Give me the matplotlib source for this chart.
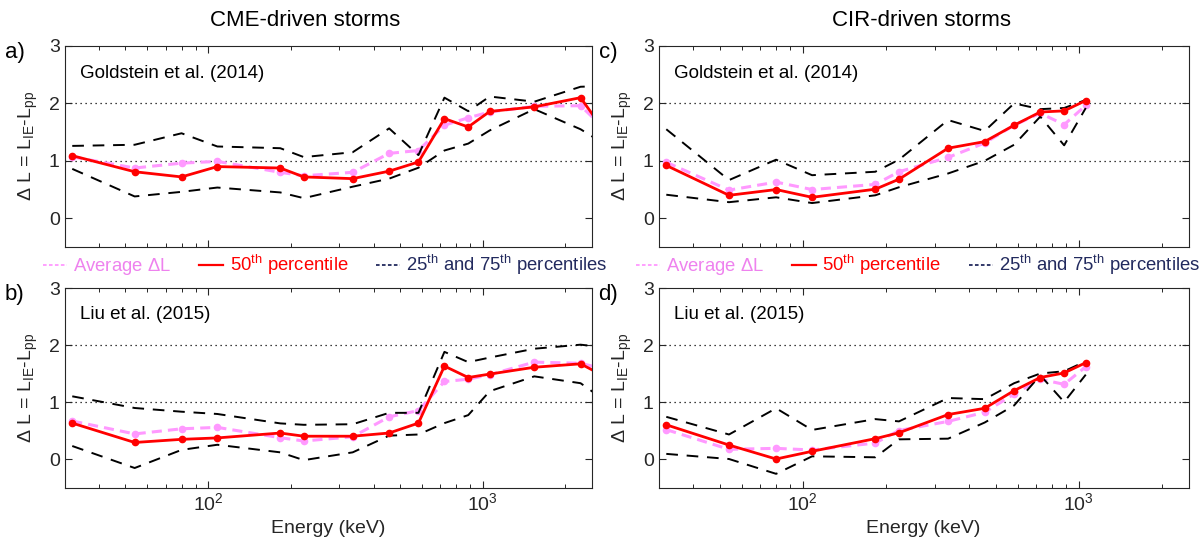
import numpy as np
import matplotlib
matplotlib.use("Agg")
import matplotlib.pyplot as plt
from matplotlib.lines import Line2D
from matplotlib.ticker import NullFormatter, LogLocator

plt.rcParams['font.family'] = ['Liberation Sans', 'DejaVu Sans']
plt.rcParams['mathtext.fontset'] = 'custom'
plt.rcParams['mathtext.rm'] = 'Liberation Sans'
plt.rcParams['mathtext.it'] = 'Liberation Sans:italic'
plt.rcParams['mathtext.bf'] = 'Liberation Sans:bold'

# electron energy channels (keV)
energy_cme = [32, 54, 80, 108, 183, 223, 336, 456, 583, 725, 885, 1060, 1540, 2270, 2650]
energy_cir = energy_cme[:12]

# CME-driven, Goldstein et al. (2014)
a_avg = [1.07, 0.875, 0.96, 0.99, 0.80, 0.74, 0.80, 1.13, 1.18, 1.62, 1.75, 1.85, 1.95, 1.96, 1.65]
a_p50 = [1.09, 0.81, 0.72, 0.90, 0.875, 0.72, 0.69, 0.82, 0.98, 1.735, 1.59, 1.86, 1.94, 2.10, 1.65]
a_p75 = [1.26, 1.28, 1.48, 1.25, 1.22, 1.065, 1.15, 1.565, 1.10, 2.10, 1.865, 2.12, 2.03, 2.29, 2.30]
a_p25 = [0.86, 0.38, 0.46, 0.535, 0.45, 0.35, 0.55, 0.69, 0.88, 1.18, 1.30, 1.53, 1.90, 1.55, 1.35]

# CME-driven, Liu et al. (2015)
b_avg = [0.667, 0.44, 0.53, 0.555, 0.374, 0.316, 0.39, 0.74, 0.85, 1.36, 1.40, 1.48, 1.70, 1.68, 1.60]
b_p50 = [0.63, 0.29, 0.345, 0.37, 0.456, 0.40, 0.40, 0.456, 0.63, 1.63, 1.43, 1.49, 1.61, 1.67, 1.50]
b_p75 = [1.10, 0.895, 0.83, 0.79, 0.625, 0.60, 0.61, 0.81, 0.81, 1.88, 1.70, 1.78, 1.935, 2.006, 1.97]
b_p25 = [0.228, -0.158, 0.16, 0.25, 0.117, -0.02, 0.117, 0.41, 0.43, 0.63, 0.77, 1.19, 1.45, 1.33, 1.10]

# CIR-driven, Goldstein et al. (2014)
c_avg = [0.976, 0.49, 0.63, 0.50, 0.59, 0.81, 1.06, 1.31, 1.62, 1.83, 1.63, 1.965]
c_p50 = [0.92, 0.40, 0.50, 0.365, 0.506, 0.68, 1.22, 1.335, 1.62, 1.85, 1.87, 2.05]
c_p75 = [1.55, 0.665, 1.02, 0.75, 0.81, 1.02, 1.71, 1.52, 2.00, 1.90, 1.92, 2.06]
c_p25 = [0.41, 0.28, 0.365, 0.265, 0.40, 0.54, 0.78, 1.00, 1.28, 1.77, 1.27, 1.92]

# CIR-driven, Liu et al. (2015)
d_avg = [0.515, 0.17, 0.187, 0.158, 0.28, 0.50, 0.66, 0.82, 1.14, 1.40, 1.31, 1.62]
d_p50 = [0.60, 0.245, 0.0, 0.135, 0.357, 0.46, 0.78, 0.89, 1.20, 1.43, 1.51, 1.69]
d_p75 = [0.74, 0.43, 0.89, 0.51, 0.70, 0.66, 1.07, 1.05, 1.33, 1.50, 1.54, 1.715]
d_p25 = [0.09, 0.0, -0.26, 0.047, 0.03, 0.345, 0.357, 0.64, 0.94, 1.47, 1.0, 1.48]

PINK = '#ff99ff'
PINK_TXT = '#ee82ee'
NAVY = '#222a5e'
AXC = '#262626'

fig = plt.figure(figsize=(12, 5.48), dpi=100)

panels = [
    ([0.0538, 0.5493, 0.4396, 0.3668], 'a)', 'Goldstein et al. (2014)', energy_cme, a_avg, a_p50, a_p75, a_p25, False),
    ([0.0538, 0.1104, 0.4396, 0.3640], 'b)', 'Liu et al. (2015)', energy_cme, b_avg, b_p50, b_p75, b_p25, True),
    ([0.5488, 0.5493, 0.4417, 0.3668], 'c)', 'Goldstein et al. (2014)', energy_cir, c_avg, c_p50, c_p75, c_p25, False),
    ([0.5488, 0.1104, 0.4417, 0.3640], 'd)', 'Liu et al. (2015)', energy_cir, d_avg, d_p50, d_p75, d_p25, True),
]

for rect, letter, source, en, avg, p50, p75, p25, bottom in panels:
    ax = fig.add_axes(rect)
    ax.set_xscale('log')
    ax.set_xlim(30, 2500)
    ax.set_ylim(-0.5, 3)
    ax.axhline(1, color='k', lw=0.9, ls=(0, (1, 3)), zorder=1)
    ax.axhline(2, color='k', lw=0.9, ls=(0, (1, 3)), zorder=1)

    ax.plot(en, avg, color=PINK, lw=2.2, dashes=(3.3, 2.0), marker='.', ms=9, zorder=2)
    ax.plot(en, p75, color='k', lw=1.4, dashes=(6, 4.5), zorder=3)
    ax.plot(en, p25, color='k', lw=1.4, dashes=(6, 4.5), zorder=3)
    ax.plot(en, p50, color='red', lw=2.0, marker='.', ms=9, zorder=4)

    ax.set_yticks([0, 1, 2, 3])
    ax.xaxis.set_minor_locator(LogLocator(base=10, subs=np.arange(2, 10)))
    ax.xaxis.set_minor_formatter(NullFormatter())
    ax.tick_params(which='both', direction='in', top=True, right=True, colors=AXC,
                   labelsize=14)
    ax.tick_params(which='major', length=5, width=0.8)
    ax.tick_params(which='minor', length=3, width=0.7)
    for s in ax.spines.values():
        s.set_color(AXC)
        s.set_linewidth(0.8)
    if bottom:
        ax.set_xlabel('Energy (keV)', fontsize=14, color=AXC, labelpad=4)
    else:
        ax.tick_params(axis='x', which='both', labelbottom=False)
    ax.set_ylabel(r'$\Delta$ L = L$_{\mathrm{IE}}$-L$_{\mathrm{pp}}$', fontsize=14,
                  color=AXC, labelpad=6)
    ax.text(0.03, 0.865, source, transform=ax.transAxes, fontsize=13.5,
            va='center', ha='left')
    fig.text(rect[0] - 0.05, rect[1] + rect[3] - 0.012, letter, fontsize=16,
             va='center', ha='left')

# column titles
fig.text(0.254, 0.962, 'CME-driven storms', fontsize=16, ha='center', va='center')
fig.text(0.768, 0.962, 'CIR-driven storms', fontsize=16, ha='center', va='center')

# legends between the rows
handles = [
    Line2D([], [], color=PINK, lw=1.3, ls=(0, (2, 1.3))),
    Line2D([], [], color='red', lw=1.6),
    Line2D([], [], color=NAVY, lw=1.3, ls=(0, (2, 1.3))),
]
labels = [r'Average $\Delta$L', r'50$^{\mathrm{th}}$ percentile',
          r'25$^{\mathrm{th}}$ and 75$^{\mathrm{th}}$ percentiles']
for xc in (0.271, 0.765):
    leg = fig.legend(handles, labels, loc='center', bbox_to_anchor=(xc, 0.516),
                     ncol=3, frameon=False, fontsize=13.3, handlelength=1.3,
                     handletextpad=0.35, columnspacing=1.5,
                     labelcolor=[PINK_TXT, 'red', NAVY])

fig.savefig('out.png', dpi=100)
